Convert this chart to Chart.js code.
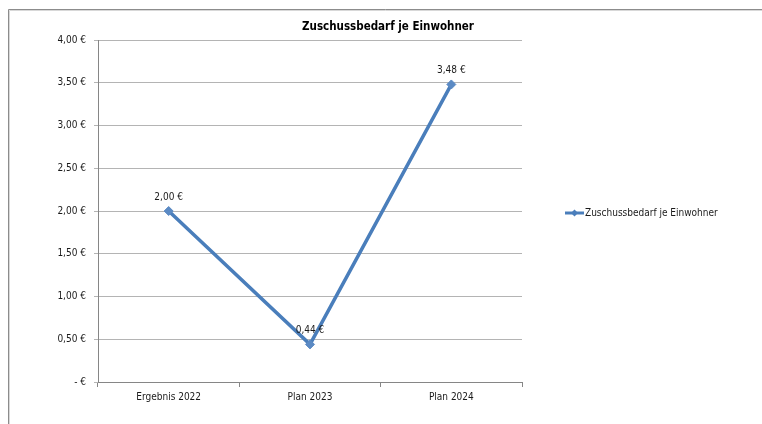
<!DOCTYPE html>
<html>
<head>
<meta charset="utf-8">
<script src="https://cdn.jsdelivr.net/npm/chart.js@4/dist/chart.umd.min.js"></script>
<style>
html,body{margin:0;padding:0;background:#fff;}
#wrap{width:762px;height:424px;position:relative;}
</style>
</head>
<body>
<div id="wrap"><canvas id="c" width="762" height="424"></canvas></div>
<script>
const chartTitle = "Zuschussbedarf je Einwohner";
const categories = ["Ergebnis 2022", "Plan 2023", "Plan 2024"];
const seriesName = "Zuschussbedarf je Einwohner";
const seriesValues = [2.00, 0.44, 3.48];
const yTicks = [0, 0.5, 1, 1.5, 2, 2.5, 3, 3.5, 4];

const FONT = '"Liberation Sans Narrow", "DejaVu Sans Condensed", "Noto Sans", sans-serif';
const LINE_COLOR = '#4A7EBB';

function euro(v) {
  if (Math.abs(v) < 1e-9) return '- €';
  return v.toFixed(2).replace('.', ',') + ' €';
}

const framePlugin = {
  id: 'frame',
  beforeDraw(chart) {
    const ctx = chart.ctx;
    ctx.save();
    ctx.fillStyle = '#fff';
    ctx.fillRect(0, 0, chart.width, chart.height);
    ctx.strokeStyle = '#d8d8d8';
    ctx.lineWidth = 1;
    ctx.beginPath();
    ctx.moveTo(9.5, chart.height);
    ctx.lineTo(9.5, 10.5);
    ctx.lineTo(chart.width, 10.5);
    ctx.stroke();
    ctx.strokeStyle = '#8c8c8c';
    ctx.beginPath();
    ctx.moveTo(8.5, chart.height);
    ctx.lineTo(8.5, 9.5);
    ctx.lineTo(chart.width, 9.5);
    ctx.stroke();
    ctx.restore();
  },
  afterDraw(chart) {
    const ctx = chart.ctx;
    ctx.save();
    ctx.font = 'bold 11.5px ' + FONT;
    ctx.fillStyle = '#000';
    ctx.textAlign = 'center';
    ctx.textBaseline = 'middle';
    ctx.fillText(chartTitle, chart.width / 2 + 7, 27);
    ctx.restore();
  }
};

const labelPlugin = {
  id: 'dataLabels',
  afterDatasetsDraw(chart) {
    const ctx = chart.ctx;
    const meta = chart.getDatasetMeta(0);
    ctx.save();
    ctx.font = '10px ' + FONT;
    ctx.fillStyle = '#1a1a1a';
    ctx.textAlign = 'center';
    ctx.textBaseline = 'middle';
    meta.data.forEach((pt, i) => {
      ctx.fillText(euro(seriesValues[i]), pt.x, pt.y - 14);
    });
    ctx.restore();
  }
};

const legendPlugin = {
  id: 'customLegend',
  afterDraw(chart) {
    const ctx = chart.ctx;
    const a = chart.chartArea;
    const x0 = a.right + 43;
    const y = (a.top + a.bottom) / 2 + 2;
    ctx.save();
    ctx.strokeStyle = LINE_COLOR;
    ctx.lineWidth = 3;
    ctx.beginPath();
    ctx.moveTo(x0, y);
    ctx.lineTo(x0 + 19, y);
    ctx.stroke();
    ctx.fillStyle = LINE_COLOR;
    ctx.beginPath();
    const cx = x0 + 9.5, r = 3.5;
    ctx.moveTo(cx, y - r);
    ctx.lineTo(cx + r, y);
    ctx.lineTo(cx, y + r);
    ctx.lineTo(cx - r, y);
    ctx.closePath();
    ctx.fill();
    ctx.font = '10px ' + FONT;
    ctx.fillStyle = '#1a1a1a';
    ctx.textAlign = 'left';
    ctx.textBaseline = 'middle';
    ctx.fillText(seriesName, x0 + 20, y);
    ctx.restore();
  }
};

new Chart(document.getElementById('c'), {
  type: 'line',
  data: {
    labels: categories,
    datasets: [{
      label: seriesName,
      data: seriesValues,
      borderColor: LINE_COLOR,
      backgroundColor: LINE_COLOR,
      borderWidth: 3.5,
      pointStyle: 'rectRot',
      pointRadius: 4.5,
      pointBackgroundColor: '#5b8ac4',
      pointBorderColor: '#5b8ac4',
      pointBorderWidth: 1,
      tension: 0,
      fill: false
    }]
  },
  options: {
    responsive: false,
    animation: false,
    devicePixelRatio: 1,
    layout: { padding: { left: 0, right: 240, top: 40, bottom: 0 } },
    plugins: {
      legend: { display: false },
      tooltip: { enabled: false },
      title: { display: false }
    },
    scales: {
      x: {
        offset: true,
        grid: {
          display: true,
          offset: true,
          drawOnChartArea: false,
          drawTicks: true,
          tickLength: 5,
          color: '#868686'
        },
        border: { display: true, color: '#868686', width: 1 },
        ticks: {
          font: { family: FONT, size: 10 },
          color: '#1a1a1a',
          padding: 4,
          maxRotation: 0
        },
        afterFit(scale) { scale.height = 42; }
      },
      y: {
        min: 0,
        max: 4,
        afterBuildTicks(scale) { scale.ticks = yTicks.map(v => ({ value: v })); },
        grid: {
          color: '#b4b4b4',
          drawTicks: true,
          tickLength: 4,
          lineWidth: 1
        },
        border: { display: true, color: '#868686', width: 1 },
        ticks: {
          font: { family: FONT, size: 10 },
          color: '#1a1a1a',
          padding: 8,
          callback: (v) => euro(v)
        },
        afterFit(scale) { scale.width = 98; }
      }
    }
  },
  plugins: [framePlugin, labelPlugin, legendPlugin]
});
</script>
</body>
</html>
